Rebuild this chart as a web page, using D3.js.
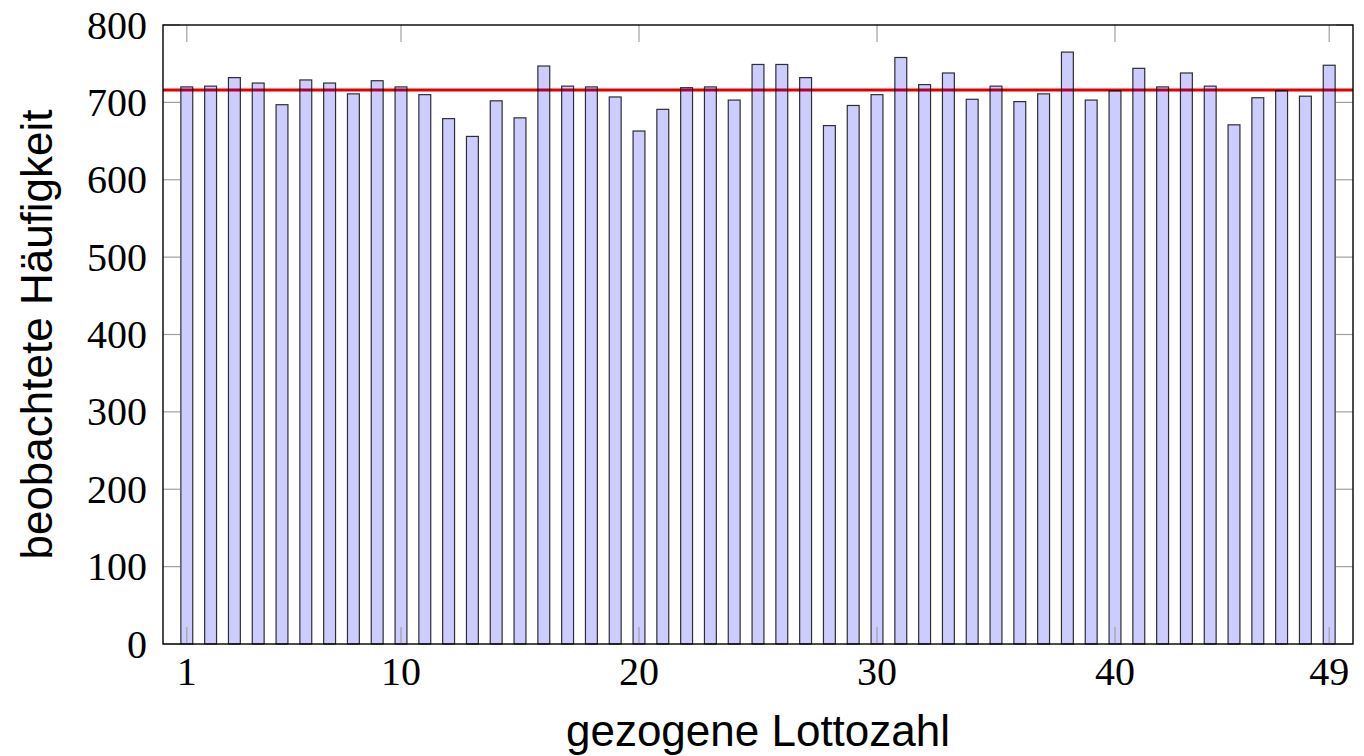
<!DOCTYPE html>
<html><head><meta charset="utf-8">
<script src="https://cdn.jsdelivr.net/npm/d3@7"></script>
<style>
html,body{margin:0;padding:0;background:#fff;}
svg{display:block;}
</style></head>
<body>
<svg id="chart" width="1364" height="756"></svg>
<script>
const numbers = d3.range(1, 50);
const counts = [720,721,732,725,697,729,725,711,728,720,710,679,656,702,680,747,721,720,707,663,691,719,720,703,749,749,732,670,696,710,758,723,738,704,721,701,711,765,703,715,744,720,738,721,671,706,715,708,748];
const expected = 716;
const xTicks = [1, 10, 20, 30, 40, 49];
const yTicks = [0, 100, 200, 300, 400, 500, 600, 700, 800];
const xLabel = "gezogene Lottozahl";
const yLabel = "beobachtete Häufigkeit";

const svg = d3.select("#chart");
const L = 163, R = 1353, T = 25, B = 644;
const x = d3.scaleLinear().domain([0, 50]).range([L, R]);
const y = d3.scaleLinear().domain([0, 800]).range([B, T]);
const barW = x(0.5) - x(0);

// expected line (under translucent bars)
svg.append("line")
  .attr("x1", L).attr("x2", R)
  .attr("y1", y(expected)).attr("y2", y(expected))
  .attr("stroke", "#e00000").attr("stroke-width", 3);

// bars
svg.append("g").selectAll("rect").data(numbers).join("rect")
  .attr("x", d => x(d) - barW / 2)
  .attr("width", barW)
  .attr("y", (d, i) => y(counts[i]))
  .attr("height", (d, i) => y(0) - y(counts[i]))
  .attr("fill", "#0000ff").attr("fill-opacity", 0.2)
  .attr("stroke", "#000").attr("stroke-opacity", 0.8).attr("stroke-width", 1.2);

// ticks (inward, grey)
const tickLen = 17;
const tg = svg.append("g").attr("stroke", "#a0a0a0").attr("stroke-width", 1.2);
xTicks.forEach(t => {
  tg.append("line").attr("x1", x(t)).attr("x2", x(t)).attr("y1", B).attr("y2", B - tickLen);
  tg.append("line").attr("x1", x(t)).attr("x2", x(t)).attr("y1", T).attr("y2", T + tickLen);
});
yTicks.forEach(t => {
  tg.append("line").attr("x1", L).attr("x2", L + tickLen).attr("y1", y(t)).attr("y2", y(t));
  tg.append("line").attr("x1", R).attr("x2", R - tickLen).attr("y1", y(t)).attr("y2", y(t));
});

// frame
svg.append("rect").attr("x", L).attr("y", T).attr("width", R - L).attr("height", B - T)
  .attr("fill", "none").attr("stroke", "#000").attr("stroke-width", 1.4);

// tick labels
const serif = "'Liberation Serif', 'Times New Roman', serif";
svg.append("g").selectAll("text").data(xTicks).join("text")
  .attr("x", d => x(d)).attr("y", 685)
  .attr("text-anchor", "middle")
  .style("font-family", serif).style("font-size", "40px")
  .text(d => d);
svg.append("g").selectAll("text").data(yTicks).join("text")
  .attr("x", 147).attr("y", d => y(d) + 13.5)
  .attr("text-anchor", "end")
  .style("font-family", serif).style("font-size", "40px")
  .text(d => d);

// axis labels
const sans = "'Liberation Sans', Arial, sans-serif";
svg.append("text")
  .attr("x", (L + R) / 2).attr("y", 746)
  .attr("text-anchor", "middle")
  .style("font-family", sans).style("font-size", "44px")
  .text(xLabel);
svg.append("text")
  .attr("transform", `translate(52, ${(T + B) / 2}) rotate(-90)`)
  .attr("text-anchor", "middle")
  .style("font-family", sans).style("font-size", "44px")
  .text(yLabel);
</script>
</body></html>
